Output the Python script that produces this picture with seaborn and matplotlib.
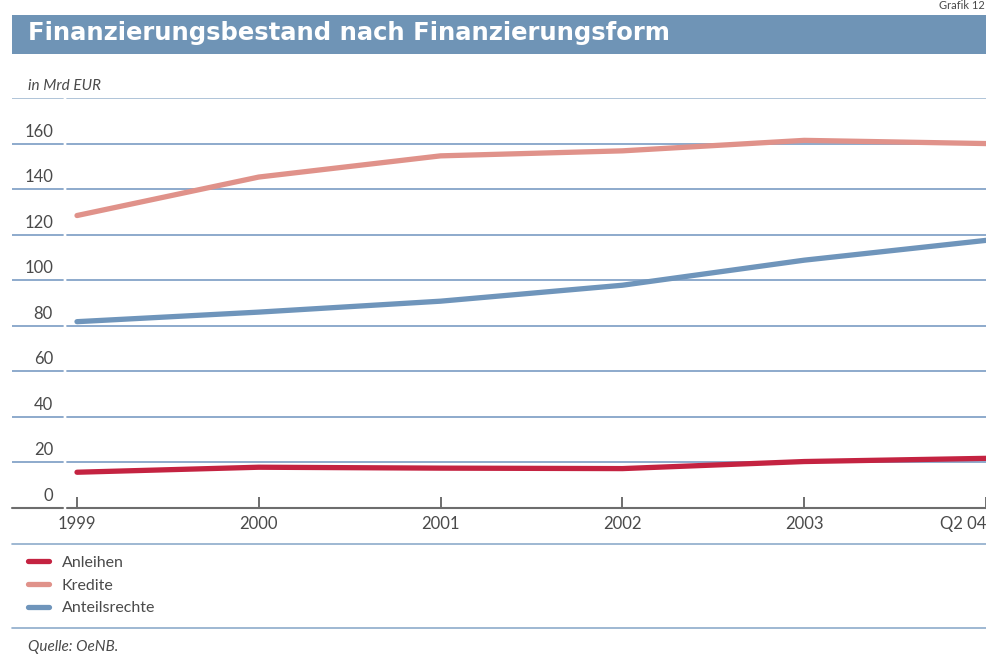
import matplotlib
matplotlib.use("Agg")
import matplotlib.pyplot as plt
import matplotlib.transforms as mtrans
from matplotlib.lines import Line2D
from matplotlib.patches import Rectangle
import seaborn as sns
import pandas as pd

# ---- data ----
categories = ["1999", "2000", "2001", "2002", "2003", "Q2 04"]
anleihen = [15.7, 17.9, 17.5, 17.3, 20.4, 21.8]
kredite = [128.4, 145.3, 154.6, 156.8, 161.4, 160.0]
anteilsrechte = [81.8, 86.0, 90.8, 97.8, 108.8, 117.5]
series_names = ["Anleihen", "Kredite", "Anteilsrechte"]
y_ticks = [0, 20, 40, 60, 80, 100, 120, 140, 160]

colors = {"Anleihen": "#c42341", "Kredite": "#e0928a", "Anteilsrechte": "#6f95bb"}
grid_col = "#85a4c8"
text_col = "#4a4a4a"

sns.set_theme(style="white")
plt.rcParams["font.family"] = ["Lato", "DejaVu Sans"]

W, H = 987, 664
fig = plt.figure(figsize=(W / 100, H / 100), dpi=100)

def fx(px):
    return px / W

def fy(py):
    return 1 - py / H

ax = fig.add_axes([fx(12), fy(508), fx(975), 410 / H])

pos = list(range(len(categories)))
df = pd.DataFrame({
    "pos": pos * 3,
    "value": anleihen + kredite + anteilsrechte,
    "series": [s for s in series_names for _ in categories],
})

sns.lineplot(data=df, x="pos", y="value", hue="series", hue_order=series_names,
             palette=colors, linewidth=3.8, ax=ax, legend=True, zorder=5)
for ln in ax.get_lines():
    ln.set_solid_capstyle("round")
    ln.set_clip_on(False)

ax.set_xlim(-65 / 181.8, 5 + 1 / 181.8)
ax.set_ylim(0, 180)
for s in ax.spines.values():
    s.set_visible(False)
ax.set_xlabel("")
ax.set_ylabel("")
ax.set_yticks([])

gap_l = (63 - 12) / 975
gap_r = (67 - 12) / 975
for yv in y_ticks[1:] + [180]:
    c = "#a9bfd5" if yv == 180 else grid_col
    ax.axhline(yv, 0, gap_l, color=c, lw=1.3, zorder=1)
    ax.axhline(yv, gap_r, 1, color=c, lw=1.3, zorder=1)
ax.axhline(0, 0, gap_l, color="#6d6d6d", lw=1.5, zorder=6, clip_on=False)
ax.axhline(0, gap_r, 1, color="#6d6d6d", lw=1.5, zorder=6, clip_on=False)

# y tick labels sitting above gridlines
blend = mtrans.blended_transform_factory(fig.transFigure, ax.transData)
for yv in y_ticks:
    ax.text(fx(53), yv, str(yv), transform=blend + mtrans.ScaledTranslation(0, 7 / 100, fig.dpi_scale_trans),
            ha="right", va="baseline", fontsize=12, color=text_col)

# x ticks
ax.set_xticks(pos)
ax.set_xticklabels(categories)
ax.tick_params(axis="x", direction="in", length=8, width=1.2, color="#555555",
               pad=6, labelsize=12, labelcolor=text_col, bottom=True)
ax.get_xticklabels()[-1].set_ha("right")

# legend
handles, labels = ax.get_legend_handles_labels()
ax.get_legend().remove()
leg = fig.legend(handles, labels, loc="upper left", bbox_to_anchor=(fx(14), fy(541)),
                 frameon=False, handlelength=1.3, handletextpad=0.8, labelspacing=0.55,
                 fontsize=11.5)
for t in leg.get_texts():
    t.set_color(text_col)
for lh in leg.get_lines():
    lh.set_linewidth(3.8)
    lh.set_solid_capstyle("round")

# separator lines
for py in (544, 628):
    fig.add_artist(Line2D([fx(12), 1], [fy(py), fy(py)], color="#8eabcb", lw=1.2))

# title band
fig.add_artist(Rectangle((fx(12), fy(54)), fx(975), 39 / H, transform=fig.transFigure,
                         facecolor="#6f94b6", edgecolor="none"))
fig.text(fx(28), fy(33), "Finanzierungsbestand nach Finanzierungsform", color="white",
         fontsize=17.5, fontweight="bold", ha="left", va="center",
         family=["DejaVu Sans"])
fig.text(fx(985), fy(0), "Grafik 12", color=text_col, fontsize=8, ha="right", va="top")

fig.text(fx(28), fy(86), "in Mrd EUR", fontsize=11, style="italic", color=text_col,
         ha="left", va="center")
fig.text(fx(28), fy(647), "Quelle: OeNB.", fontsize=11, style="italic", color=text_col,
         ha="left", va="center")

fig.savefig("out.png", dpi=100)
